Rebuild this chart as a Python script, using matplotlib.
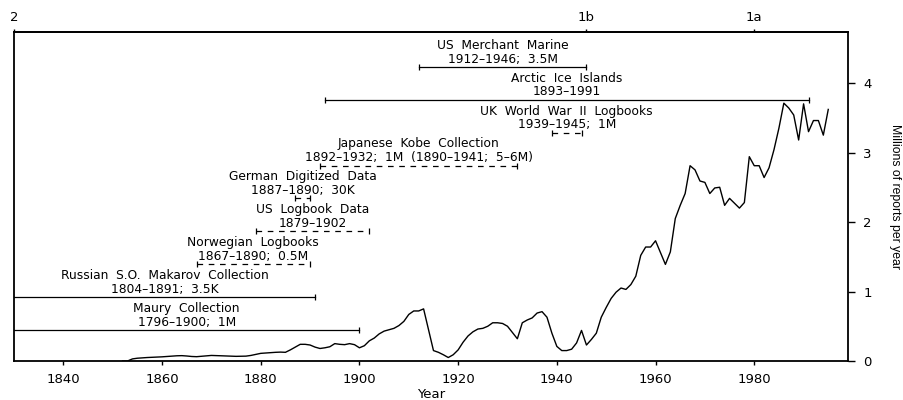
import matplotlib
matplotlib.use('Agg')
import matplotlib.pyplot as plt

# ---- data ----
years = list(range(1852, 1996))
reports = [
    0.00, 0.00, 0.03, 0.04, 0.045, 0.05, 0.053, 0.055, 0.06, 0.065,   # 1852-1861
    0.07, 0.075, 0.077, 0.072, 0.065, 0.062, 0.068, 0.075, 0.08, 0.078,  # 1862-1871
    0.075, 0.072, 0.07, 0.067, 0.068, 0.07, 0.08, 0.095, 0.11, 0.115,   # 1872-1881
    0.12, 0.125, 0.128, 0.125, 0.16, 0.20, 0.24, 0.24, 0.23, 0.20,      # 1882-1891
    0.18, 0.19, 0.205, 0.25, 0.24, 0.235, 0.25, 0.235, 0.19, 0.22,      # 1892-1901
    0.29, 0.33, 0.39, 0.43, 0.45, 0.47, 0.51, 0.57, 0.67, 0.72,         # 1902-1911
    0.72, 0.75, 0.45, 0.15, 0.125, 0.09, 0.05, 0.09, 0.16, 0.27,        # 1912-1921
    0.36, 0.42, 0.46, 0.47, 0.50, 0.55, 0.55, 0.54, 0.50, 0.41,         # 1922-1931
    0.32, 0.55, 0.59, 0.62, 0.69, 0.71, 0.63, 0.40, 0.21, 0.15,         # 1932-1941
    0.15, 0.17, 0.26, 0.44, 0.23, 0.31, 0.40, 0.63, 0.77, 0.90,         # 1942-1951
    0.99, 1.05, 1.03, 1.10, 1.22, 1.52, 1.64, 1.64, 1.73, 1.56,         # 1952-1961
    1.39, 1.57, 2.05, 2.24, 2.41, 2.81, 2.75, 2.59, 2.57, 2.41,         # 1962-1971
    2.49, 2.50, 2.24, 2.34, 2.27, 2.20, 2.28, 2.94, 2.81, 2.81,         # 1972-1981
    2.64, 2.78, 3.04, 3.35, 3.71, 3.64, 3.54, 3.18, 3.70, 3.30,         # 1982-1991
    3.46, 3.46, 3.25, 3.62,                                             # 1992-1995
]

source_names = [
    "Maury  Collection",
    "Russian  S.O.  Makarov  Collection",
    "Norwegian  Logbooks",
    "US  Logbook  Data",
    "German  Digitized  Data",
    "Japanese  Kobe  Collection",
    "UK  World  War  II  Logbooks",
    "Arctic  Ice  Islands",
    "US  Merchant  Marine",
]
source_details = [
    "1796–1900;  1M",
    "1804–1891;  3.5K",
    "1867–1890;  0.5M",
    "1879–1902",
    "1887–1890;  30K",
    "1892–1932;  1M  (1890–1941;  5–6M)",
    "1939–1945;  1M",
    "1893–1991",
    "1912–1946;  3.5M",
]
source_start = [1796, 1804, 1867, 1879, 1887, 1892, 1939, 1893, 1912]
source_end = [1900, 1891, 1890, 1902, 1890, 1932, 1945, 1991, 1946]
source_dashed = [False, False, True, True, True, True, True, False, False]

release_years = [1830, 1946, 1980]
release_labels = ["2", "1b", "1a"]

x_ticks = [1840, 1860, 1880, 1900, 1920, 1940, 1960, 1980]
y_ticks = [0, 1, 2, 3, 4]

# ---- figure ----
plt.rcParams['font.family'] = ['DejaVu Sans']
W, H = 904, 400
fig = plt.figure(figsize=(W / 100, H / 100), dpi=100)
ax = fig.add_axes([14 / W, 39 / H, 834 / W, 329 / H])

XMIN, XMAX = 1830, 1999
YMAX = 4.734
ax.set_xlim(XMIN, XMAX)
ax.set_ylim(0, YMAX)

ax.plot(years, reports, color='black', lw=1.0)

# source annotations
lvl0, step = 0.447, 0.473
for i, (name, det, s, e, dashed) in enumerate(
        zip(source_names, source_details, source_start, source_end, source_dashed)):
    y = lvl0 + step * i
    ls = (0, (4.5, 4.5)) if dashed else '-'
    ax.plot([s, e], [y, y], color='black', lw=0.9, ls=ls)
    ax.plot([s, e], [y, y], ls='none', marker='|', ms=4, mew=0.9, color='black')
    xc = (max(s, XMIN) + min(e, XMAX)) / 2
    ax.annotate(name + "\n" + det, xy=(xc, y), xytext=(0, 1.0),
                textcoords='offset points', ha='center', va='bottom',
                multialignment='center', linespacing=1.08, fontsize=8.8)

for sp in ax.spines.values():
    sp.set_linewidth(1.3)

ax.set_xticks(x_ticks)
ax.set_xticklabels([str(v) for v in x_ticks])
ax.tick_params(axis='x', direction='out', length=3, width=1, pad=5.5, labelsize=9.5)

ax.yaxis.tick_right()
ax.set_yticks(y_ticks)
ax.set_yticklabels([str(v) for v in y_ticks])
ax.tick_params(axis='y', direction='out', length=5, width=1, pad=6, labelsize=9.5)

sec = ax.secondary_xaxis('top')
sec.set_xticks(release_years)
sec.set_xticklabels(release_labels)
sec.tick_params(direction='out', length=2.5, width=1, pad=3, labelsize=9.5)
sec.spines['top'].set_linewidth(1.3)

ax.text(0.5, -(395 - 361) / 329, "Year", transform=ax.transAxes,
        ha='center', va='center', fontsize=9.5)
ax.text((895 - 14) / 834, 0.5, "Millions of reports per year", transform=ax.transAxes,
        ha='center', va='center', rotation=270, fontsize=8.8,
        family=['Liberation Sans Narrow', 'Liberation Sans', 'DejaVu Sans'])

fig.savefig('out.png', dpi=100, facecolor='white')
